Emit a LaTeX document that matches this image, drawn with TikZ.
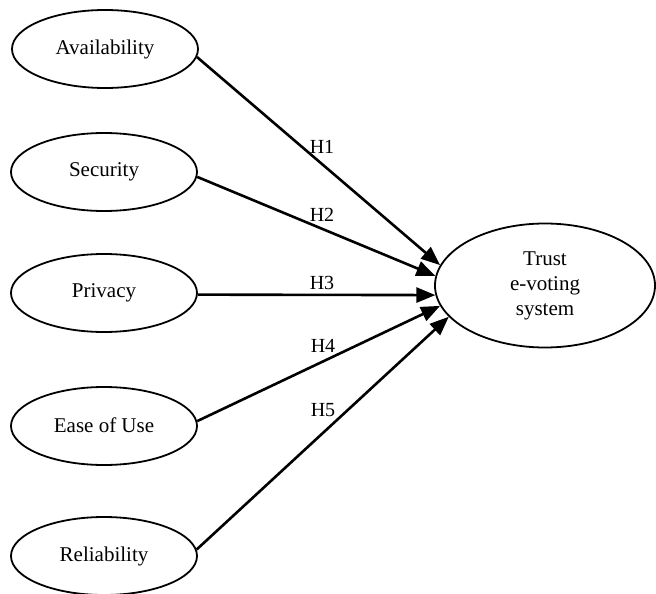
\documentclass[tikz,border=0pt]{standalone}
\usepackage{fontspec}
\setmainfont{Liberation Serif}
\usetikzlibrary{shapes.geometric,arrows.meta}
\begin{document}
\begin{tikzpicture}[x=1pt,y=-1pt,
  construct/.style={draw,ellipse,line width=1.8pt,minimum width=186pt,minimum height=78pt,inner sep=0pt,font=\fontsize{21}{25}\selectfont},
  target/.style={draw,ellipse,line width=1.8pt,minimum width=220pt,minimum height=124pt,inner sep=0pt,align=center,font=\fontsize{21}{25}\selectfont},
  hyp/.style={line width=2.6pt,-{Triangle[length=19pt,width=15pt]}},
  hlabel/.style={font=\fontsize{20}{24}\selectfont,inner sep=0pt}]
\useasboundingbox (0,0) rectangle (656,594);
\node[construct] (av) at (105,49) {\raisebox{2pt}{Availability}};
\node[construct] (se) at (104,172) {\raisebox{2pt}{Security}};
\node[construct] (pr) at (104,293) {\raisebox{2pt}{Privacy}};
\node[construct] (eu) at (104,426) {\raisebox{2pt}{Ease of Use}};
\node[construct] (re) at (104,556) {\raisebox{2pt}{Reliability}};
\node[target] (tr) at (545,285.5) {Trust\\e-voting\\system};
\draw[hyp] (av.-5.6) -- (tr.169.9);
\draw[hyp] (se.-3.1) -- (tr.175.9);
\draw[hyp] (pr.-1.2) -- (tr.185.2);
\draw[hyp] (eu.3.7) -- (tr.191.6);
\draw[hyp] (re.4.9) -- (tr.198.6);
\node[hlabel] (h1) at (322,147) {H1};
\node[hlabel] (h2) at (322,215) {H2};
\node[hlabel] (h3) at (322,283) {H3};
\node[hlabel] (h4) at (323,346) {H4};
\node[hlabel] (h5) at (323,410) {H5};
\end{tikzpicture}
\end{document}
